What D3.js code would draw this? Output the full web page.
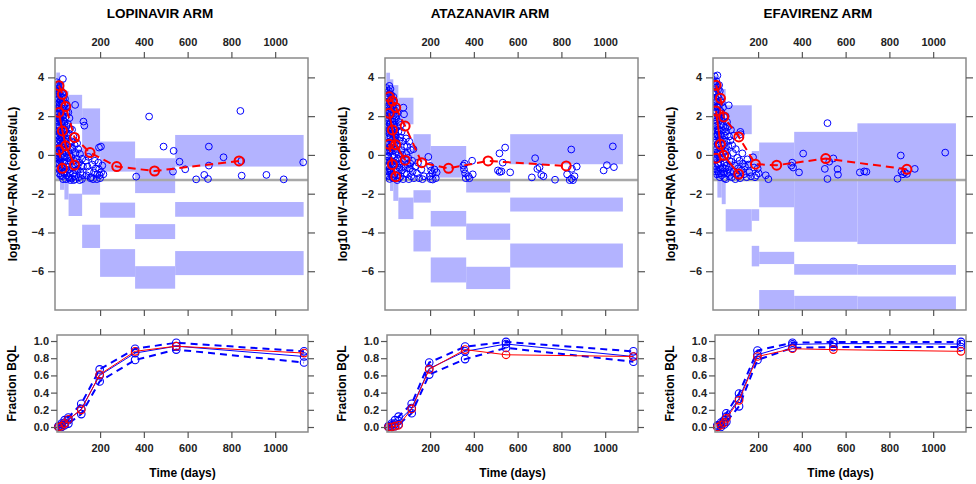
<!DOCTYPE html>
<html>
<head>
<meta charset="utf-8">
<script src="https://cdn.jsdelivr.net/npm/d3@7"></script>
<style>
  body { margin: 0; background: #fff; }
  text { font-family: "Liberation Sans", Arial, sans-serif; }
</style>
</head>
<body>
<script>
// ---- shared axis values ----
var timeTicks = [200, 400, 600, 800, 1000];
var logTicks = [-6, -4, -2, 0, 2, 4];
var fracTicks = [0, 0.2, 0.4, 0.6, 0.8, 1.0];
var lloq = -1.3;

// ---- LOPINAVIR ----
var lpvBinEdges = [0, 17, 37, 56, 118, 200, 360, 543, 1130];
var lpvPI95 = [[3.4, 4.25], [2.8, 3.8], [2.2, 3.3], [1.6, 3.1], [-0.1, 2.4], [-0.86, 0.69], [-1.97, -0.17], [-0.6, 1.03]];
var lpvPI50 = [[1.6, 2.9], [0.8, 2.2], [0.0, 1.4], [-0.9, 0.3], [-2.05, -1.0], [-3.24, -2.46], [-4.34, -3.57], [-3.19, -2.43]];
var lpvPI05 = [[-1.3, 0.3], [-1.8, -0.6], [-2.3, -1.3], [-3.15, -2.0], [-4.8, -3.6], [-6.29, -4.86], [-6.9, -5.74], [-6.2, -4.96]];
var lpvObsT = [12, 28, 43, 83, 154, 276, 449, 835];
var lpvObs95 = [3.57, 3.13, 2.5, 0.9, 0.12, -0.6, -0.83, -0.31];
var lpvObs50 = [2.19, 1.24, 0.47, -0.52];
var lpvObs05 = [0.26, -0.69];
var lpvPoints = [
  [2,3.75],[4,3.5],[1,3.3],[5,3.1],[3,2.85],[1,2.6],[6,2.4],[2,2.15],[4,1.9],[1,1.7],[5,1.45],[3,1.2],[2,0.95],[6,0.7],[1,0.5],[4,0.25],[2,0.0],[5,-0.2],[3,-0.45],
  [9,3.65],[12,3.4],[8,3.15],[11,2.9],[13,2.7],[9,2.45],[12,2.2],[10,1.95],[8,1.75],[13,1.5],[11,1.25],[9,1.0],[12,0.8],[10,0.55],[14,0.35],[8,0.1],[11,-0.15],[13,-0.4],[9,-0.7],[12,-0.95],
  [18,3.55],[22,3.3],[16,3.05],[20,2.8],[24,2.6],[17,2.35],[21,2.1],[19,1.85],[23,1.65],[16,1.4],[20,1.15],[24,0.9],[18,0.7],[22,0.45],[17,0.2],[21,-0.05],[19,-0.3],[23,-0.55],[16,-0.8],[20,-1.05],
  [30,3.92],[28,3.2],[33,2.95],[27,2.7],[31,2.5],[35,2.25],[29,2.0],[33,1.75],[27,1.5],[32,1.3],[36,1.05],[28,0.8],[31,0.6],[34,0.35],[27,0.1],[30,-0.15],[35,-0.4],[29,-0.65],[33,-0.9],[27,-1.1],[31,-1.25],
  [40,2.9],[44,2.65],[39,2.4],[47,2.2],[42,1.95],[38,1.7],[46,1.5],[41,1.25],[49,1.0],[43,0.8],[39,0.55],[47,0.3],[42,0.1],[50,-0.15],[38,-0.35],[45,-0.6],[41,-0.85],[48,-1.05],[44,-1.25],
  [6,3.58],[3,3.0],[7,2.62],[5,2.05],[7,1.55],[6,1.05],[4,0.6],[7,0.1],[6,-0.45],[15,3.25],[14,2.55],[15,1.85],[14,1.15],[15,0.45],[14,-0.25],[25,2.95],[26,2.05],[25,1.2],[26,0.3],[25,-0.8],[37,2.6],[36,1.6],[37,0.7],[36,-0.1],[37,-0.95],
  [55,2.2],[60,1.9],[53,1.6],[63,1.35],[57,1.1],[52,0.85],[61,0.6],[66,0.4],[55,0.2],[59,-0.05],[64,-0.3],[53,-0.5],[58,-0.75],[62,-0.95],[56,-1.15],[65,-1.3],[60,-1.2],
  [72,1.3],[78,0.95],[70,0.7],[84,0.5],[75,0.3],[88,0.1],[69,-0.1],[80,-0.3],[86,-0.5],[73,-0.65],[90,-0.8],[77,-0.95],[83,-1.1],[70,-1.2],[88,-1.25],[79,-1.3],[86,2.58],
  [95,0.6],[100,0.3],[108,0.05],[94,-0.2],[104,-0.4],[115,-0.55],[98,-0.75],[111,-0.9],[120,-1.05],[102,-1.15],[117,-1.25],[107,-1.3],[124,1.72],[128,1.51],[122,-0.6],[118,-0.2],
  [135,-0.3],[142,-0.6],[150,-0.85],[138,-1.05],[156,-1.2],[147,-0.1],[165,-0.5],[172,-0.9],[160,-1.15],[180,-0.7],[188,-1.0],[176,-0.3],[195,-0.75],[198,-1.05],[192,-0.4],[205,-0.9],[210,-0.55],[215,-1.0],[195,0.38],[204,0.43],[168,-1.25],[185,-1.25],[200,-1.2],
  [365,-1.12],[424,1.98],[490,0.43],[533,-0.86],[536,0.21],[563,-0.35],[589,-0.74],[639,-1.26],[676,-1.03],[693,-1.24],[697,0.43],[697,-0.55],[764,-0.12],[841,2.27],[847,-1.07],[845,-0.31],[960,-1.03],[1039,-1.26],[1128,-0.38]
];
var lpvBqlT = [10, 24, 38, 55, 114, 198, 360, 548, 1132];
var lpvBqlObs = [0.0, 0.01, 0.04, 0.09, 0.20, 0.61, 0.88, 0.94, 0.86];
var lpvBqlMed = [0.0, 0.02, 0.05, 0.08, 0.21, 0.60, 0.86, 0.94, 0.82];
var lpvBqlHi = [0.01, 0.04, 0.08, 0.11, 0.27, 0.67, 0.91, 0.98, 0.88];
var lpvBqlLo = [0.0, 0.0, 0.02, 0.04, 0.15, 0.53, 0.78, 0.90, 0.75];

// ---- ATAZANAVIR ----
var atvBinEdges = [0, 17, 32, 55, 124, 203, 365, 566, 1081];
var atvPI95 = [[3.3, 4.24], [2.9, 3.9], [2.4, 3.6], [1.58, 2.95], [-0.3, 1.07], [-1.17, 0.46], [-1.94, -1.3], [-0.48, 1.07]];
var atvPI50 = [[1.5, 3.0], [0.9, 2.4], [0.3, 1.8], [-0.9, 0.3], [-2.46, -1.82], [-3.69, -2.89], [-4.38, -3.54], [-2.92, -2.2]];
var atvPI05 = [[-1.3, 0.6], [-1.86, -0.2], [-2.37, -0.9], [-3.31, -2.2], [-4.98, -3.88], [-6.58, -5.29], [-6.92, -5.77], [-5.81, -4.57]];
var atvObsT = [13, 28, 43, 86, 162, 284, 465, 822];
var atvObs95 = [3.0, 2.78, 2.44, 1.49, -0.4, -0.69, -0.31, -0.57];
var atvObs50 = [2.15, 1.29, 0.52, -0.27];
var atvObs05 = [0.55, -0.5, -1.12];
var atvPoints = [
  [1,3.45],[3,3.2],[2,2.95],[5,2.7],[1,2.45],[4,2.2],[2,1.95],[6,1.7],[3,1.45],[1,1.2],[5,0.95],[2,0.7],[4,0.45],[1,0.2],[6,-0.05],[3,-0.3],[2,-0.55],[5,-0.85],[1,-1.05],
  [12,3.3],[14,3.56],[9,3.05],[15,2.8],[11,2.55],[8,2.3],[13,2.05],[10,1.8],[16,1.6],[9,1.35],[14,1.1],[11,0.85],[8,0.6],[15,0.4],[12,0.15],[10,-0.1],[16,-0.35],[9,-0.6],[13,-0.85],[11,-1.1],[15,-1.24],
  [19,3.4],[22,3.1],[26,2.85],[18,2.6],[24,2.35],[21,2.1],[27,1.85],[19,1.6],[23,1.35],[28,1.1],[20,0.9],[25,0.65],[18,0.4],[22,0.2],[27,-0.05],[21,-0.3],[25,-0.55],[19,-0.8],[23,-1.0],[28,-1.15],
  [32,3.0],[36,2.75],[30,2.5],[40,2.3],[34,2.05],[38,1.8],[31,1.55],[41,1.3],[35,1.05],[30,0.85],[39,0.6],[33,0.35],[42,0.15],[36,-0.1],[31,-0.35],[40,-0.55],[34,-0.8],[38,-1.0],[32,-1.2],
  [6,3.05],[7,2.5],[6,1.9],[7,1.25],[6,0.6],[7,-0.1],[5,-0.6],[16,3.15],[17,2.2],[16,1.3],[17,0.25],[15,-0.7],[29,2.55],[30,1.7],[29,0.6],[30,-0.5],[43,2.0],[43,0.9],[43,-0.3],
  [46,2.4],[52,2.15],[45,1.9],[57,1.7],[49,1.45],[55,1.2],[44,1.0],[59,0.75],[50,0.5],[47,0.3],[56,0.05],[53,-0.2],[45,-0.45],[60,-0.65],[48,-0.85],[54,-1.05],[58,-1.2],[50,-1.3],
  [66,1.55],[78,2.44],[81,2.1],[70,1.2],[64,0.9],[75,0.7],[82,0.45],[68,0.25],[73,0.0],[85,-0.2],[63,-0.45],[79,-0.6],[71,-0.8],[84,-0.95],[66,-1.1],[77,-1.25],
  [90,0.85],[105,0.69],[95,0.45],[112,0.25],[92,0.05],[100,-0.15],[118,-0.3],[124,0.3],[97,-0.5],[108,-0.7],[120,-0.85],[94,-1.0],[114,-1.1],[103,-1.25],[126,-1.2],[110,-0.45],
  [132,-0.6],[140,-0.95],[150,-1.2],[160,-0.75],[172,-1.1],[145,-0.4],[165,-1.25],[192,-0.1],[200,-0.57],[205,-0.8],[210,-0.95],[198,-1.1],[212,-1.27],[220,-0.75],[226,-1.2],[203,-1.25],[230,-0.9],
  [352,-0.55],[355,-0.75],[360,-0.95],[363,-1.2],[358,-0.45],[375,-1.1],[380,-1.2],[392,-0.3],[395,-1.0],[517,0.08],[543,0.38],[532,-0.4],[510,-0.8],[518,-0.88],[526,-0.85],[566,-0.9],
  [665,-1.16],[680,-0.17],[690,-0.72],[700,-0.64],[708,-1.03],[718,-1.1],[771,-1.28],[826,-1.0],[845,0.28],[848,-0.72],[846,-1.23],[853,-1.3],[860,-1.1],[870,-0.6],[838,-1.3],[993,-0.8],[1008,-0.53],[1035,0.44],[1040,-0.63]
];
var atvBqlT = [10, 25, 40, 56, 116, 196, 360, 547, 1129];
var atvBqlObs = [0.0, 0.0, 0.01, 0.02, 0.21, 0.67, 0.90, 0.84, 0.82];
var atvBqlMed = [0.0, 0.02, 0.04, 0.07, 0.22, 0.68, 0.88, 0.965, 0.82];
var atvBqlHi = [0.01, 0.04, 0.08, 0.12, 0.27, 0.75, 0.935, 0.99, 0.88];
var atvBqlLo = [0.0, 0.0, 0.01, 0.03, 0.16, 0.61, 0.79, 0.92, 0.76];

// ---- EFAVIRENZ ----
var efvBinEdges = [0, 14, 34, 52, 171, 205, 365, 654, 1104];
var efvPI95 = [[3.2, 4.1], [2.6, 3.6], [2.2, 3.4], [1.07, 2.56], [-0.65, 0.2], [-2.7, 0.64], [-4.48, 1.19], [-4.6, 1.63]];
var efvPI50 = [[1.2, 2.9], [0.5, 2.2], [-0.2, 1.5], [-1.2, -0.3], [-3.4, -2.8], [-5.63, -5.0], [-6.18, -5.63], [-6.18, -5.68]];
var efvPI05 = [[-1.3, 0.3], [-2.2, -0.6], [-2.54, -1.3], [-3.95, -2.8], [-5.75, -4.69], [-8.5, -6.97], [-8.5, -7.27], [-8.5, -7.3]];
var efvObsT = [8, 28, 43, 112, 188, 285, 509, 880];
var efvObs95 = [3.59, 2.92, 1.96, 0.93, -0.48, -0.53, -0.19, -0.74];
var efvObs50 = [2.27, 0.55, -0.02, -0.99];
var efvObs05 = [-0.17];
var efvPoints = [
  [2,4.05],[1,3.7],[4,3.45],[2,3.2],[5,2.95],[1,2.7],[3,2.45],[6,2.2],[2,1.95],[4,1.7],[1,1.45],[5,1.2],[3,0.95],[1,0.7],[6,0.45],[2,0.2],[4,-0.05],[1,-0.3],[5,-0.6],[3,-0.85],
  [9,3.8],[14,4.1],[12,3.5],[8,3.25],[15,3.0],[10,2.75],[13,2.5],[9,2.25],[16,2.0],[11,1.75],[8,1.5],[14,1.3],[12,1.05],[10,0.8],[15,0.55],[9,0.3],[13,0.05],[11,-0.2],[16,-0.5],[8,-0.75],[12,-1.0],
  [22,3.6],[25,3.3],[19,3.05],[28,2.8],[21,2.55],[26,2.3],[18,2.05],[24,1.8],[29,1.55],[20,1.3],[27,1.05],[23,0.8],[18,0.55],[30,0.3],[22,0.05],[26,-0.2],[19,-0.45],[28,-0.7],[21,-0.95],[25,-1.15],
  [34,2.7],[40,2.45],[33,2.2],[45,1.95],[37,1.75],[42,1.5],[35,1.25],[47,1.0],[39,0.8],[44,0.55],[32,0.3],[41,0.1],[36,-0.15],[48,-0.4],[38,-0.65],[43,-0.85],[34,-1.05],[46,-1.2],
  [6,3.6],[7,2.85],[6,1.6],[7,0.95],[6,-0.15],[17,3.35],[16,2.45],[17,1.05],[16,0.15],[17,-0.85],[31,2.0],[31,1.0],[30,-0.45],[31,-0.95],[50,1.4],[49,0.35],[50,-0.7],
  [66,2.56],[52,2.0],[58,1.7],[62,1.45],[54,1.2],[68,0.95],[56,0.7],[64,0.45],[51,0.2],[60,-0.05],[69,-0.3],[55,-0.55],[63,-0.75],[58,-0.95],[67,-1.1],[53,-1.25],
  [82,0.49],[76,1.3],[90,1.0],[74,0.75],[98,0.3],[85,0.1],[105,-0.15],[78,-0.35],[94,-0.55],[108,-0.7],[88,-0.85],[100,-1.0],[80,-1.15],[96,-1.25],[110,-1.1],[73,-0.9],
  [119,1.19],[121,1.07],[128,0.08],[115,-0.3],[151,-0.23],[140,-0.6],[125,-0.8],[135,-1.0],[148,-1.15],[160,-0.9],[118,-1.2],[168,-1.1],[156,-0.5],[131,-0.45],
  [177,-0.12],[182,-0.65],[186,-1.15],[192,-1.05],[198,-0.7],[203,-0.95],[235,-1.05],[247,-1.25],
  [352,-0.55],[356,-0.4],[360,-0.65],[387,-0.9],[406,0.07],[505,-0.72],[517,1.64],[517,-1.24],[525,-0.35],[544,-0.18],[563,-0.73],[565,-1.02],[665,-0.9],[685,-0.85],[695,-0.87],
  [837,-1.23],[852,-0.03],[855,-0.85],[862,-1.0],[870,-0.9],[880,-0.98],[916,-0.72],[1055,0.12]
];
var efvBqlT = [14, 30, 45, 55, 113, 197, 357, 544, 1127];
var efvBqlObs = [0.0, 0.02, 0.05, 0.10, 0.31, 0.82, 0.91, 0.90, 0.88];
var efvBqlMed = [0.01, 0.03, 0.06, 0.12, 0.33, 0.84, 0.96, 0.97, 0.965];
var efvBqlHi = [0.02, 0.05, 0.08, 0.16, 0.39, 0.89, 0.98, 0.99, 0.99];
var efvBqlLo = [0.0, 0.0, 0.03, 0.06, 0.24, 0.78, 0.92, 0.93, 0.93];

var arms = [
  { name: 'LOPINAVIR ARM', left: 55, edges: lpvBinEdges, pis: [lpvPI95, lpvPI50, lpvPI05],
    obsT: lpvObsT, obs: [lpvObs95, lpvObs50, lpvObs05], points: lpvPoints,
    bqlT: lpvBqlT, bqlObs: lpvBqlObs, bqlMed: lpvBqlMed, bqlHi: lpvBqlHi, bqlLo: lpvBqlLo },
  { name: 'ATAZANAVIR ARM', left: 385, edges: atvBinEdges, pis: [atvPI95, atvPI50, atvPI05],
    obsT: atvObsT, obs: [atvObs95, atvObs50, atvObs05], points: atvPoints,
    bqlT: atvBqlT, bqlObs: atvBqlObs, bqlMed: atvBqlMed, bqlHi: atvBqlHi, bqlLo: atvBqlLo },
  { name: 'EFAVIRENZ ARM', left: 713, edges: efvBinEdges, pis: [efvPI95, efvPI50, efvPI05],
    obsT: efvObsT, obs: [efvObs95, efvObs50, efvObs05], points: efvPoints,
    bqlT: efvBqlT, bqlObs: efvBqlObs, bqlMed: efvBqlMed, bqlHi: efvBqlHi, bqlLo: efvBqlLo }
];

// layout
var width = 976, height = 484,
    boxW = 253,
    topY = 58, topH = 252,
    botY = 335, botH = 97, botShift = 2;

var shade = '#b3b3ff', blue = '#0000ff', red = '#ff0000',
    boxCol = '#8a8a8a', tickCol = '#555';

var svg = d3.select('body').append('svg')
    .attr('width', width)
    .attr('height', height);

function minus(d) { return d < 0 ? '\u2212' + Math.abs(d) : String(d); }

function styleAxis(sel, labels) {
    sel.select('.domain').remove();
    sel.selectAll('.tick line').attr('stroke', tickCol).attr('stroke-width', 1.2);
    sel.attr('font-family', '"Liberation Sans", Arial, sans-serif')
       .attr('font-size', 11).attr('font-weight', 'bold');
    sel.selectAll('.tick text').attr('fill', '#222');
    if (!labels) sel.selectAll('.tick text').remove();
}

function drawArm(a, idx) {
    var g = svg.append('g').attr('transform', 'translate(' + a.left + ',0)');

    var x = d3.scaleLinear().domain([-6, 1150]).range([0, boxW]);
    var y = d3.scaleLinear().domain([-8, 5]).range([topY + topH, topY]);
    var yb = d3.scaleLinear().domain([-0.058, 1.07]).range([botY + botH, botY]);
    var fmtT = d3.format('d');

    // title
    g.append('text')
        .attr('x', 105).attr('y', 18)
        .attr('text-anchor', 'middle')
        .attr('font-size', 13.5).attr('font-weight', 'bold')
        .text(a.name);

    // ---------- top panel: VPC ----------
    var clipId = 'clipTop' + idx;
    g.append('clipPath').attr('id', clipId)
        .append('rect').attr('x', 0).attr('y', topY).attr('width', boxW).attr('height', topH);
    var top = g.append('g').attr('clip-path', 'url(#' + clipId + ')');

    // simulated percentile CI boxes, one per bin and percentile
    var boxes = [];
    a.pis.forEach(function (pi) {
        pi.forEach(function (r, i) {
            boxes.push({ x0: a.edges[i], x1: a.edges[i + 1], lo: r[0], hi: r[1] });
        });
    });
    top.selectAll('rect.pi')
        .data(boxes)
        .enter().append('rect')
        .attr('class', 'pi')
        .attr('x', function (d) { return x(d.x0); })
        .attr('width', function (d) { return x(d.x1) - x(d.x0); })
        .attr('y', function (d) { return y(d.hi); })
        .attr('height', function (d) { return y(d.lo) - y(d.hi); })
        .attr('fill', shade);

    // LLOQ line
    top.append('line')
        .attr('x1', 0).attr('x2', boxW)
        .attr('y1', y(lloq)).attr('y2', y(lloq))
        .attr('stroke', '#a8a8a8').attr('stroke-width', 2.5);

    // observed data
    top.selectAll('circle.obs')
        .data(a.points)
        .enter().append('circle')
        .attr('class', 'obs')
        .attr('cx', function (d) { return x(d[0]); })
        .attr('cy', function (d) { return y(d[1]); })
        .attr('r', 3.4)
        .attr('fill', 'none')
        .attr('stroke', blue)
        .attr('stroke-width', 1);

    // observed percentiles: 95th dashed, median solid, 5th dashed
    var dashes = ['8,5', null, '8,5'];
    a.obs.forEach(function (vals, k) {
        var pts = vals.map(function (v, i) { return [a.obsT[i], v]; });
        var line = d3.line()
            .x(function (d) { return x(d[0]); })
            .y(function (d) { return y(d[1]); });
        top.append('path')
            .datum(pts)
            .attr('d', line)
            .attr('fill', 'none')
            .attr('stroke', red)
            .attr('stroke-width', 2)
            .attr('stroke-dasharray', dashes[k]);
        top.selectAll('circle.pct' + k)
            .data(pts)
            .enter().append('circle')
            .attr('class', 'pct' + k)
            .attr('cx', function (d) { return x(d[0]); })
            .attr('cy', function (d) { return y(d[1]); })
            .attr('r', 4.5)
            .attr('fill', 'none')
            .attr('stroke', red)
            .attr('stroke-width', 2);
    });

    g.append('rect')
        .attr('x', 0).attr('y', topY).attr('width', boxW).attr('height', topH)
        .attr('fill', 'none').attr('stroke', boxCol).attr('stroke-width', 1.5);

    g.append('g').attr('transform', 'translate(0,' + topY + ')')
        .call(d3.axisTop(x).tickValues(timeTicks).tickFormat(fmtT).tickSize(6).tickPadding(6))
        .call(styleAxis, true);
    g.append('g').attr('transform', 'translate(0,' + (topY + topH) + ')')
        .call(d3.axisBottom(x).tickValues(timeTicks).tickSize(6))
        .call(styleAxis, false);
    g.append('g')
        .call(d3.axisLeft(y).tickValues(logTicks).tickFormat(minus).tickSize(7).tickPadding(4))
        .call(styleAxis, true);
    g.append('g').attr('transform', 'translate(' + boxW + ',0)')
        .call(d3.axisRight(y).tickValues(logTicks).tickSize(7))
        .call(styleAxis, false);

    g.append('text')
        .attr('transform', 'translate(-42,' + (topY + topH / 2) + ') rotate(-90)')
        .attr('text-anchor', 'middle')
        .attr('dy', '0.35em')
        .attr('font-size', 12).attr('font-weight', 'bold')
        .text('log10 HIV\u2212RNA (copies/uL)');

    // ---------- bottom panel: fraction BQL ----------
    var bx0 = botShift;
    var bot = g.append('g');
    var bline = d3.line()
        .x(function (d) { return x(d[0]); })
        .y(function (d) { return yb(d[1]); });
    var series = [
        { vals: a.bqlHi, col: blue, w: 2, dash: '7,5' },
        { vals: a.bqlLo, col: blue, w: 2, dash: '7,5' },
        { vals: a.bqlMed, col: blue, w: 1, dash: null },
        { vals: a.bqlObs, col: red, w: 1, dash: null }
    ];
    series.forEach(function (s, k) {
        var pts = s.vals.map(function (v, i) { return [a.bqlT[i], v]; });
        bot.append('path')
            .datum(pts)
            .attr('d', bline)
            .attr('fill', 'none')
            .attr('stroke', s.col)
            .attr('stroke-width', s.w)
            .attr('stroke-dasharray', s.dash);
        bot.selectAll('circle.b' + k)
            .data(pts)
            .enter().append('circle')
            .attr('class', 'b' + k)
            .attr('cx', function (d) { return x(d[0]); })
            .attr('cy', function (d) { return yb(d[1]); })
            .attr('r', 3.8)
            .attr('fill', 'none')
            .attr('stroke', s.col)
            .attr('stroke-width', 1.1);
    });

    g.append('rect')
        .attr('x', bx0).attr('y', botY).attr('width', boxW - bx0).attr('height', botH)
        .attr('fill', 'none').attr('stroke', boxCol).attr('stroke-width', 1.5);

    g.append('g').attr('transform', 'translate(0,' + (botY + botH) + ')')
        .call(d3.axisBottom(x).tickValues(timeTicks).tickFormat(fmtT).tickSize(6).tickPadding(6))
        .call(styleAxis, true);
    g.append('g').attr('transform', 'translate(0,' + botY + ')')
        .call(d3.axisTop(x).tickValues(timeTicks).tickSize(6))
        .call(styleAxis, false);
    g.append('g').attr('transform', 'translate(' + bx0 + ',0)')
        .call(d3.axisLeft(yb).tickValues(fracTicks).tickFormat(d3.format('.1f')).tickSize(6).tickPadding(2))
        .call(styleAxis, true);
    g.append('g').attr('transform', 'translate(' + boxW + ',0)')
        .call(d3.axisRight(yb).tickValues(fracTicks).tickSize(6))
        .call(styleAxis, false);

    g.append('text')
        .attr('transform', 'translate(-43,' + (botY + botH / 2) + ') rotate(-90)')
        .attr('text-anchor', 'middle')
        .attr('dy', '0.35em')
        .attr('font-size', 12).attr('font-weight', 'bold')
        .text('Fraction BQL');

    g.append('text')
        .attr('x', (bx0 + boxW) / 2).attr('y', 477)
        .attr('text-anchor', 'middle')
        .attr('font-size', 12).attr('font-weight', 'bold')
        .text('Time (days)');
}

arms.forEach(drawArm);
</script>
</body>
</html>
